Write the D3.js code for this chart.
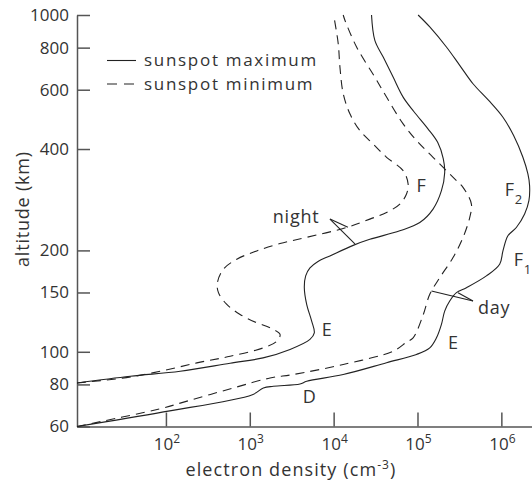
<!DOCTYPE html>
<head>
    <meta charset="utf-8">
    <style>
        body { margin: 0; background: #fff; }
        svg { display: block; font-family: "Open Sans", sans-serif; }
        .axis path, .axis line { stroke: #555; stroke-width: 1.5; }
        .axis text { font-family: "Open Sans", sans-serif; font-size: 17px; fill: #333; }
        .curve { fill: none; stroke: #222; stroke-width: 1.1; }
        .dashed { stroke-dasharray: 9,6; }
        .label { font-size: 18px; fill: #333; letter-spacing: 0.8px; }
        .pointer { stroke: #222; stroke-width: 1.1; }
    </style>
</head>
<body>
    <script src="https://d3js.org/d3.v7.min.js"></script>
    <script>

        // axis ticks
        var densityTicks = [1e2, 1e3, 1e4, 1e5, 1e6];
        var altitudeTicks = [60, 80, 100, 150, 200, 400, 600, 800, 1000];

        // [electron density (cm-3), altitude (km)]
        var dayMax = [[8.7,60],[93.6,66.3],[1074,74.6],[1452,78.1],[1910,79],[3970,80.2],[4770,81.7],
            [13010,85.6],[42750,92.8],[97300,98.2],[140100,102.7],[168400,110],[193000,120.6],
            [211000,132.1],[242300,141.5],[291300,149.8],[383100,155],[662900,168],[954500,182],
            [1045000,199.3],[1198000,221],[1509000,233.9],[1894000,256.4],[2131000,280.9],
            [2172000,311.3],[2073000,337.3],[1807000,378],[1401000,438.5],[1045000,497],
            [706000,557.6],[459000,625],[318800,708.8],[221300,803.5],[140100,921.7],[101700,1000]];

        var dayMin = [[8.7,60],[93.6,68.1],[148,70.4],[638,78.1],[1745,83.6],[3304,85.6],[13010,91.7],
            [51230,100.4],[73960,106.8],[88660,110],[116600,128.5],[140100,148.1],[184300,166],
            [265300,190.4],[349000,218.4],[419400,250.4],[439400,274.6],[349000,307.7],[291300,322.1],
            [153300,378],[97300,423.9],[67400,475],[42750,570.5],[31000,654],[18780,803.5],
            [13630,965],[13010,1000]];

        var nightMax = [[8.7,80.8],[37.6,84.6],[148,87.5],[583,92.5],[1440,95.9],[3020,101.6],
            [5220,108.8],[5880,113.8],[5470,123.3],[4770,138.3],[4470,155],[4640,168],[5220,177.4],
            [6505,185.5],[9036,192.6],[17100,207],[27000,215.7],[61500,228.7],[106500,242],
            [153300,265.3],[193000,300.8],[211000,340.3],[202800,374.6],[174500,418],[132600,460],
            [90350,517],[67400,570.5],[51200,654],[39000,750],[31000,841],[28300,1000]];

        var nightMin = [[8.7,80.8],[30,83.5],[85.5,87.5],[234,92.7],[583,97],[1445,102.7],[2096,107.5],
            [2295,112.6],[1745,117.8],[1211,122],[766,129.1],[532,138.3],[423,149.8],[411,160.4],
            [485,175.9],[700,188.3],[1211,199.3],[2295,209.6],[4770,218.7],[14280,233.9],[27000,247.7],
            [42750,259.2],[61550,274.6],[73960,294],[77300,315],[67400,345],[42750,378],[29600,414],
            [20560,453.8],[15630,508.9],[13010,583.9],[11890,700],[11340,822.6],[10000,1000]];

        // region labels: text, subscript, density, altitude
        var regionLabels = [
            ["F", "", 97300, 297.3],
            ["F", "2", 1095000, 290.6],
            ["F", "1", 1401000, 179.8],
            ["E", "", 231400, 101.6],
            ["E", "", 7200, 111.3],
            ["D", "", 4275, 70.4],
            ["night", "", 1878, 242],
            ["day", "", 526600, 129.1]
        ];

        // pointer lines: from label vertex to the curves
        var pointers = [
            [[9036,247.7],[14800,234.2]],
            [[9036,247.7],[17930,209.2]],
            [[459000,141.5],[146800,151.5]],
            [[459000,141.5],[304300,149.8]]
        ];

        var legendNames = ["sunspot maximum", "sunspot minimum"];

        var width = 532, height = 481;

        var svg = d3.select("body").append("svg")
            .attr("width", width)
            .attr("height", height);

        // scales
        var x = d3.scaleLog().domain([8.7, 2.32e6]).range([77, 532]);
        var y = d3.scaleLog().domain([60, 1000]).range([426.5, 15]);

        // y axis
        svg.append("g")
            .attr("class", "axis")
            .attr("transform", "translate(" + x.range()[0] + ",0)")
            .call(d3.axisLeft(y)
                .tickValues(altitudeTicks)
                .tickSize(-13)
                .tickSizeOuter(0)
                .tickPadding(8)
                .tickFormat(d3.format("d")));

        // x axis
        svg.append("g")
            .attr("class", "axis")
            .attr("transform", "translate(0," + y.range()[0] + ")")
            .call(d3.axisBottom(x)
                .tickValues(densityTicks)
                .tickSize(-14)
                .tickSizeOuter(0)
                .tickFormat(""));

        // x tick labels as powers of ten
        var xl = svg.append("g").selectAll("text")
            .data(densityTicks)
            .enter().append("text")
            .attr("x", function(d) { return x(d) + 1; })
            .attr("y", y.range()[0] + 23.5)
            .attr("text-anchor", "middle")
            .style("font-size", "17px")
            .style("fill", "#333");
        xl.append("tspan").text("10");
        xl.append("tspan")
            .attr("dy", -7)
            .style("font-size", "12px")
            .text(function(d) { return Math.round(Math.log10(d)); });

        // axis titles
        var xt = svg.append("text")
            .attr("class", "label")
            .attr("x", 291)
            .attr("y", 476)
            .attr("text-anchor", "middle")
            .style("letter-spacing", "1.1px");
        xt.append("tspan").text("electron density (cm");
        xt.append("tspan").attr("dy", -7).style("font-size", "12px").text("-3");
        xt.append("tspan").attr("dy", 7).text(")");

        svg.append("text")
            .attr("class", "label")
            .attr("transform", "translate(29,209) rotate(-90)")
            .attr("text-anchor", "middle")
            .text("altitude (km)");

        // curves
        var line = d3.line()
            .x(function(d) { return x(d[0]); })
            .y(function(d) { return y(d[1]); })
            .curve(d3.curveCatmullRom.alpha(0.5));

        [[dayMax, false], [dayMin, true], [nightMax, false], [nightMin, true]].forEach(function(c) {
            svg.append("path")
                .datum(c[0])
                .attr("class", c[1] ? "curve dashed" : "curve")
                .attr("d", line);
        });

        // pointers
        svg.selectAll(".pointer")
            .data(pointers)
            .enter().append("line")
            .attr("class", "pointer")
            .attr("x1", function(d) { return x(d[0][0]); })
            .attr("y1", function(d) { return y(d[0][1]); })
            .attr("x2", function(d) { return x(d[1][0]); })
            .attr("y2", function(d) { return y(d[1][1]); });

        // region labels
        var rl = svg.selectAll(".region")
            .data(regionLabels)
            .enter().append("text")
            .attr("class", "label region")
            .attr("x", function(d) { return x(d[2]); })
            .attr("y", function(d) { return y(d[3]); });
        rl.append("tspan").text(function(d) { return d[0]; });
        rl.append("tspan")
            .attr("dy", 8)
            .style("font-size", "13px")
            .text(function(d) { return d[1]; });

        // legend
        var legend = svg.append("g");
        legendNames.forEach(function(name, i) {
            var ly = 60.5 + i * 23.5;
            legend.append("line")
                .attr("class", "curve")
                .attr("x1", 107).attr("x2", 136)
                .attr("y1", ly).attr("y2", ly)
                .style("stroke-dasharray", i ? "10,7" : null);
            legend.append("text")
                .attr("class", "label")
                .attr("x", 144)
                .attr("y", ly + 5.5)
                .style("font-size", "17px")
                .style("letter-spacing", "1.7px")
                .text(name);
        });

    </script>
</body>
